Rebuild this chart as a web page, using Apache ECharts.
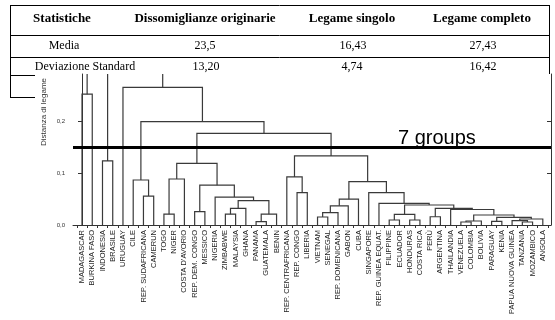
<!DOCTYPE html>
<html>
<head>
<meta charset="utf-8">
<title>Dendrogramma</title>
<script src="https://cdn.jsdelivr.net/npm/echarts@6.0.0/dist/echarts.min.js"></script>
<style>
  html, body { margin: 0; padding: 0; background: #fff; }
  #chart { width: 555px; height: 320px; }
</style>
</head>
<body>
<div id="chart"></div>
<script>
// table above the chart
const tableHeader = ['Statistiche', 'Dissomiglianze originarie', 'Legame singolo', 'Legame completo']
const rowMedia = ['Media', '23,5', '16,43', '27,43']
const rowDevStd = ['Deviazione Standard', '13,20', '4,74', '16,42']

// leaves, in dendrogram order
const countries = [
  'MADAGASCAR', 'BURKINA FASO', 'INDONESIA', 'BRASILE', 'URUGUAY', 'CILE',
  'REP. SUDAFRICANA', 'CAMERUN', 'TOGO', 'NIGER', "COSTA D'AVORIO", 'REP. DEM. CONGO',
  'MESSICO', 'NIGERIA', 'ZIMBABWE', 'MALAYSIA', 'GHANA', 'PANAMA', 'GUATEMALA', 'BENIN',
  'REP. CENTRAFRICANA', 'REP. CONGO', 'LIBERIA', 'VIETNAM', 'SENEGAL', 'REP. DOMENICANA',
  'GABON', 'CUBA', 'SINGAPORE', 'REP. GUINEA EQUAT.', 'FILIPPINE', 'ECUADOR', 'HONDURAS',
  'COSTA RICA', 'PERÙ', 'ARGENTINA', 'THAILANDIA', 'VENEZUELA', 'COLOMBIA', 'BOLIVIA',
  'PARAGUAY', 'KENIA', 'PAPUA NUOVA GUINEA', 'TANZANIA', 'MOZAMBICO', 'ANGOLA'
]

// [node a, node b, distance]; nodes 0..45 are the leaves, 46.. the merges below in order
const merges = [
  [0, 1, 0.253], [2, 3, 0.124], [6, 7, 0.056], [5, 48, 0.087],
  [8, 9, 0.021], [50, 10, 0.089], [11, 12, 0.026], [14, 15, 0.021],
  [53, 16, 0.032], [17, 18, 0.0064], [55, 19, 0.021], [54, 56, 0.047],
  [13, 57, 0.054], [52, 58, 0.077], [51, 59, 0.119], [21, 22, 0.0625],
  [20, 61, 0.093], [23, 24, 0.0155], [63, 25, 0.024], [64, 26, 0.037],
  [65, 27, 0.050], [30, 31, 0.0097], [32, 33, 0.0097], [67, 68, 0.0207],
  [34, 35, 0.016], [37, 38, 0.0058], [71, 39, 0.0077], [40, 41, 0.0072],
  [43, 44, 0.0058], [42, 74, 0.0083], [75, 45, 0.0116], [73, 76, 0.0149],
  [72, 77, 0.0193], [36, 78, 0.030], [70, 79, 0.032], [69, 80, 0.0387],
  [29, 81, 0.042], [28, 82, 0.0625], [66, 83, 0.084], [62, 84, 0.1335],
  [60, 85, 0.177], [49, 86, 0.200], [4, 87, 0.266], [47, 88, 0.32],
  [46, 89, 0.38]
]

const cutHeight = 0.146
const cutLabel = '7 groups'
const yTicks = [0, 0.1, 0.2]
const yMax = 0.292

// node positions: leaf i sits at i, a merge sits between its two children
const nodeX = countries.map((c, i) => i)
const nodeH = countries.map(() => 0)
const linkData = merges.map(([a, b, h]) => {
  const item = [nodeX[a], nodeH[a], nodeX[b], nodeH[b], h]
  nodeX.push((nodeX[a] + nodeX[b]) / 2)
  nodeH.push(h)
  return item
})
const leafValues = countries.map((c, i) => i)
const tickValues = countries.map((c, i) => i - 0.5).concat([countries.length - 0.5])

const axisColor = '#333'
const sans = '"Liberation Sans", Arial, sans-serif'
const serif = '"Liberation Serif", "Times New Roman", serif'

function renderLink(params, api) {
  const p1 = api.coord([api.value(0), api.value(1)])
  const p2 = api.coord([api.value(0), api.value(4)])
  const p3 = api.coord([api.value(2), api.value(4)])
  const p4 = api.coord([api.value(2), api.value(3)])
  return {
    type: 'polyline',
    shape: { points: [p1, p2, p3, p4] },
    style: { stroke: '#3a3a3a', lineWidth: 1.2, fill: null }
  }
}

function cellText(text, x, y, bold) {
  return {
    type: 'text',
    x: x,
    y: y,
    style: {
      text: text,
      font: bold ? 'bold 13px ' + serif : '12px ' + serif,
      fill: '#000',
      align: 'center',
      textAlign: 'center',
      verticalAlign: 'middle',
      textVerticalAlign: 'middle'
    }
  }
}

function hLine(x1, x2, y) {
  return { type: 'line', shape: { x1: x1, y1: y, x2: x2, y2: y }, style: { stroke: '#000', lineWidth: 1 } }
}

function vLine(x, y1, y2) {
  return { type: 'line', shape: { x1: x, y1: y1, x2: x, y2: y2 }, style: { stroke: '#000', lineWidth: 1 } }
}

// column centres; the first column text is not centred the same on each row
const headerX = [62, 205, 352, 482]
const mediaX = [64, 205, 353, 483]
const devX = [85, 206, 352, 483]
const tableGraphic = [
  hLine(10, 549, 5.5), hLine(10, 549, 35.5), hLine(10, 549, 57.5),
  hLine(10, 35, 75.5), hLine(10, 35, 97.5),
  vLine(10.5, 5, 98), vLine(549.5, 5, 74)
]
tableHeader.forEach((t, i) => tableGraphic.push(cellText(t, headerX[i], 19, true)))
rowMedia.forEach((t, i) => tableGraphic.push(cellText(t, mediaX[i], 46, false)))
rowDevStd.forEach((t, i) => tableGraphic.push(cellText(t, devX[i], 67, false)))

const chart = echarts.init(document.getElementById('chart'))
chart.setOption({
  backgroundColor: '#fff',
  animation: false,
  textStyle: { fontFamily: sans },
  grid: { left: 73, right: 4, top: 74, bottom: 95 },
  xAxis: {
    type: 'value',
    min: -0.88,
    max: 45.8,
    axisLine: { show: true, onZero: false, lineStyle: { color: axisColor, width: 1 } },
    axisTick: { show: true, customValues: tickValues, length: 3, lineStyle: { color: axisColor } },
    axisLabel: {
      customValues: leafValues,
      rotate: 90,
      fontSize: 7.5,
      color: '#222',
      margin: 5,
      formatter: v => countries[Math.round(v)]
    },
    splitLine: { show: false }
  },
  yAxis: [{
    type: 'value',
    min: 0,
    max: yMax,
    position: 'left',
    axisLine: { show: true, lineStyle: { color: axisColor } },
    axisTick: { show: true, customValues: yTicks, length: 4, lineStyle: { color: axisColor } },
    axisLabel: {
      customValues: yTicks,
      fontSize: 6,
      color: axisColor,
      margin: 8,
      formatter: v => v.toFixed(1).replace('.', ',')
    },
    splitLine: { show: false }
  }, {
    type: 'value',
    min: 0,
    max: yMax,
    position: 'right',
    axisLine: { show: true, lineStyle: { color: axisColor } },
    axisTick: { show: true, inside: true, customValues: yTicks, length: 4, lineStyle: { color: axisColor } },
    axisLabel: { show: false },
    splitLine: { show: false }
  }],
  series: [{
    type: 'custom',
    clip: true,
    renderItem: renderLink,
    encode: { x: [0, 2], y: [1, 3, 4] },
    data: linkData,
    markLine: {
      silent: true,
      symbol: ['none', 'none'],
      label: { show: false },
      lineStyle: { color: '#000', width: 3, type: 'solid' },
      data: [{ yAxis: cutHeight }]
    }
  }],
  graphic: tableGraphic.concat([{
    type: 'text',
    x: 44,
    y: 112,
    rotation: Math.PI / 2,
    style: {
      text: 'Distanza di legame',
      fontSize: 8,
      fontFamily: sans,
      fill: '#333',
      align: 'center',
      textAlign: 'center',
      verticalAlign: 'middle',
      textVerticalAlign: 'middle'
    }
  }, {
    type: 'text',
    x: 398,
    y: 138,
    style: {
      text: cutLabel,
      fontSize: 20,
      fontFamily: sans,
      fill: '#000',
      align: 'left',
      textAlign: 'left',
      verticalAlign: 'middle',
      textVerticalAlign: 'middle'
    }
  }])
})
</script>
</body>
</html>
